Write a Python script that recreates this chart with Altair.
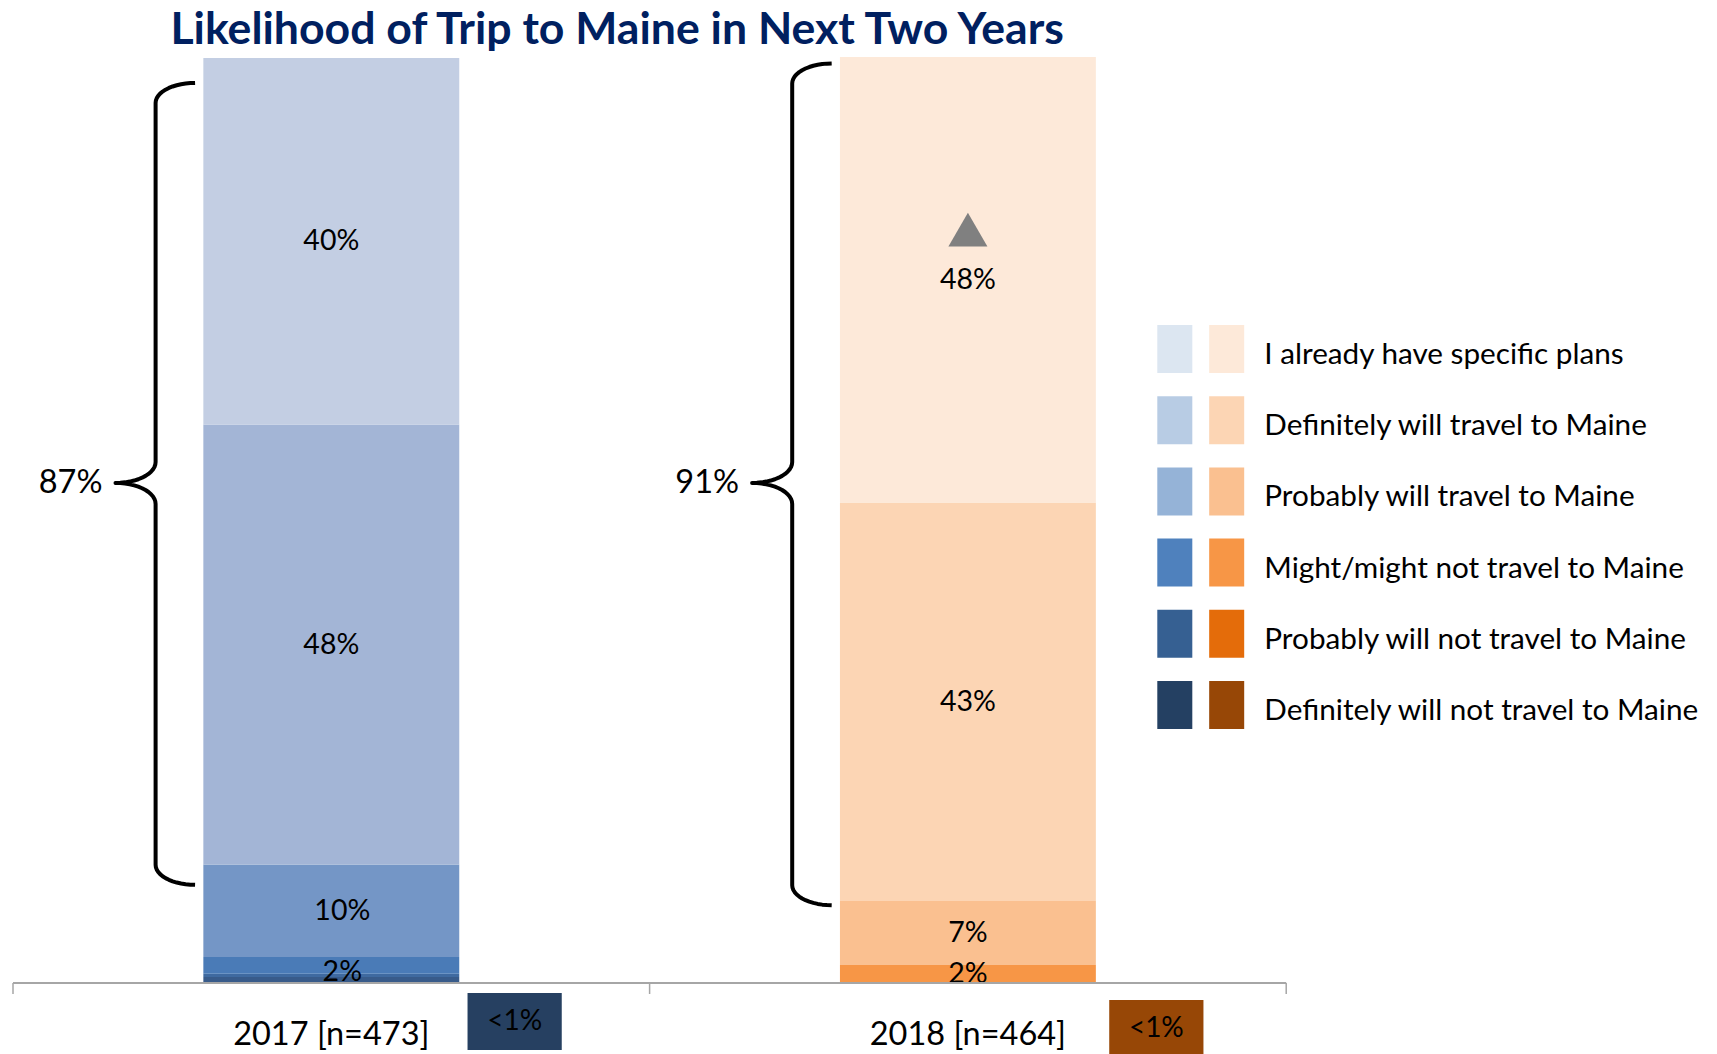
import altair as alt
import pandas as pd
import numpy as np

# ---------------- data ----------------
title_text = "Likelihood of Trip to Maine in Next Two Years"
years = ["2017 [n=473]", "2018 [n=464]"]
categories = [
    "I already have specific plans",
    "Definitely will travel to Maine",
    "Probably will travel to Maine",
    "Might/might not travel to Maine",
    "Probably will not travel to Maine",
    "Definitely will not travel to Maine",
]
values_2017 = [39.6, 47.5, 10.0, 1.8, 0.35, 0.65]
values_2018 = [48.1, 43.05, 6.9, 1.95, 0.0, 0.0]
bar_colors_2017 = ["#c3cee3", "#a3b5d6", "#7496c6", "#4a7bb7", "#3f6aa0", "#385b8a"]
bar_colors_2018 = ["#fde9d9", "#fcd5b4", "#fac090", "#f79646", "#e46c0a", "#974706"]
legend_blue = ["#dce6f1", "#b8cce4", "#95b3d7", "#4f81bd", "#366092", "#244062"]
legend_orange = ["#fde9d9", "#fcd5b4", "#fac090", "#f79646", "#e46c0a", "#974706"]
brace_labels = ["87%", "91%"]
brace_top = [97.2, 99.3]
brace_bottom = [10.6, 8.4]
brace_tip = [54.0, 54.0]
small_share_labels = ["<1%", "<1%"]
small_share_colors = ["#264061", "#974706"]
significant = [(1, 0)]  # (year index, category index) with up-triangle marker

# ---------------- layout constants ----------------
PLOT_W, PLOT_H = 1687, 926
X_DOMAIN = [-0.5, 2.15]
PX_X = (X_DOMAIN[1] - X_DOMAIN[0]) / PLOT_W   # units per px (x)
PX_Y = 100.0 / PLOT_H                          # percent per px (y)
BAR_HALF = 0.201
FONT = "Lato"

xs = alt.Scale(domain=X_DOMAIN, nice=False, zero=False)
ys = alt.Scale(domain=[0, 100], nice=False, zero=False)


def X(f):
    return alt.X(f, type="quantitative", scale=xs, axis=None)


def Y(f):
    return alt.Y(f, type="quantitative", scale=ys, axis=None)


# ---------------- bars ----------------
rows = []
label_rows = []
for yi, (vals, cols) in enumerate([(values_2017, bar_colors_2017), (values_2018, bar_colors_2018)]):
    base = 0.0
    for ci in reversed(range(len(categories))):
        v = vals[ci]
        y0, y1 = base, base + v
        base = y1
        if v <= 0:
            continue
        rows.append(dict(year=years[yi], cat=categories[ci], x0=yi - BAR_HALF, x1=yi + BAR_HALF,
                         y0=y0, y1=y1, color=cols[ci]))
        if v >= 1:
            shift = 11 * PX_X if (yi == 0 and v < 15) else 0.0
            yshift = -7 * PX_Y if (yi == 0 and v < 5) else 0.0
            label_rows.append(dict(x=yi + shift, y=(y0 + y1) / 2 + yshift, label=f"{round(v)}%",
                                   cat=categories[ci], yi=yi))
bars_df = pd.DataFrame(rows)
labels_df = pd.DataFrame(label_rows)

bars = alt.Chart(bars_df).mark_rect().encode(
    x=X("x0"), x2="x1", y=Y("y0"), y2="y1",
    color=alt.Color("color:N", scale=None),
)
bar_labels = alt.Chart(labels_df).mark_text(
    font=FONT, fontSize=28.5, color="#000000", baseline="middle", align="center"
).encode(x=X("x"), y=Y("y"), text="label:N")

# significance triangle
sig_rows = []
for yi, ci in significant:
    r = labels_df[(labels_df.yi == yi) & (labels_df.cat == categories[ci])].iloc[0]
    sig_rows.append(dict(x=r.x, y=r.y))
sig = alt.Chart(pd.DataFrame(sig_rows)).mark_point(
    shape="triangle-up", filled=True, size=1521, color="#808080", opacity=1, yOffset=-50
).encode(x=X("x"), y=Y("y"))

# ---------------- braces ----------------
XV, XE, XT = -0.276, -0.214, -0.339
RY_END, RY_MID = 20 * PX_Y, 21 * PX_Y
brace_pts = []
th = np.linspace(0, np.pi / 2, 14)
for yi in range(len(years)):
    xv, xe, xt = yi + XV, yi + XE, yi + XT
    top, bot, tip = brace_top[yi], brace_bottom[yi], brace_tip[yi]
    pts = []
    for t in th[::-1]:
        pts.append((xe - (xe - xv) * np.cos(t), top - RY_END + RY_END * np.sin(t)))
    for t in th:
        pts.append((xt + (xv - xt) * np.cos(t), tip + RY_MID - RY_MID * np.sin(t)))
    for t in th[::-1]:
        pts.append((xt + (xv - xt) * np.cos(t), tip - RY_MID + RY_MID * np.sin(t)))
    for t in th:
        pts.append((xe - (xe - xv) * np.cos(t), bot + RY_END - RY_END * np.sin(t)))
    for k, (px, py) in enumerate(pts):
        brace_pts.append(dict(b=yi, o=k, x=px, y=py))
braces = alt.Chart(pd.DataFrame(brace_pts)).mark_line(
    color="#000000", strokeWidth=4, strokeJoin="round", strokeCap="butt", interpolate="linear"
).encode(x=X("x"), y=Y("y"), detail="b:N", order="o:Q")

brace_text = alt.Chart(pd.DataFrame(dict(
    x=[i + XT for i in range(len(years))], y=brace_tip, label=brace_labels
))).mark_text(font=FONT, fontSize=32.5, align="right", baseline="middle", dx=-13, color="#000000").encode(
    x=X("x"), y=Y("y"), text="label:N")

# ---------------- category axis ----------------
axis_df = pd.DataFrame(dict(x=[X_DOMAIN[0]], x2=[len(years) - 0.5], y=[0.0]))
axis_line = alt.Chart(axis_df).mark_rule(color="#a6a6a6", strokeWidth=2).encode(
    x=X("x"), x2="x2", y=Y("y"))
tick_df = pd.DataFrame(dict(x=[i - 0.5 for i in range(len(years) + 1)], y=[0.0] * (len(years) + 1),
                            y2=[-11 * PX_Y] * (len(years) + 1)))
ticks = alt.Chart(tick_df).mark_rule(color="#a6a6a6", strokeWidth=1.5).encode(
    x=X("x"), y=Y("y"), y2="y2")
cat_labels = alt.Chart(pd.DataFrame(dict(x=list(range(len(years))), y=[-62 * PX_Y] * len(years), label=years))
                       ).mark_text(font=FONT, fontSize=32.5, align="center", baseline="alphabetic",
                                   color="#000000").encode(x=X("x"), y=Y("y"), text="label:N")

# ---------------- "<1%" callout boxes ----------------
box_df = pd.DataFrame(dict(
    x0=[0 + 0.214, 1 + 0.222], x1=[0 + 0.362, 1 + 0.370],
    y0=[-10 * PX_Y, -17 * PX_Y], y1=[-67 * PX_Y, -74 * PX_Y],
    color=small_share_colors, label=small_share_labels,
))
box_df["xm"] = (box_df.x0 + box_df.x1) / 2
box_df["ym"] = (box_df.y0 + box_df.y1) / 2
boxes = alt.Chart(box_df).mark_rect().encode(
    x=X("x0"), x2="x1", y=Y("y0"), y2="y1", color=alt.Color("color:N", scale=None))
box_text = alt.Chart(box_df).mark_text(font=FONT, fontSize=28, align="center", baseline="middle",
                                       color="#000000").encode(x=X("xm"), y=Y("ym"), text="label:N")

# ---------------- legend ----------------
LEG_TOP = (983 - 349) * PX_Y
LEG_STEP = 71.2 * PX_Y
LEG_HALF = 24 * PX_Y
leg_rows = []
for i, c in enumerate(categories):
    yc = LEG_TOP - i * LEG_STEP
    leg_rows.append(dict(cat=c, xb0=1.2975, xb1=1.3525, xo0=1.379, xo1=1.434, xt=1.4656,
                         y0=yc - LEG_HALF, y1=yc + LEG_HALF, yc=yc,
                         blue=legend_blue[i], orange=legend_orange[i]))
leg_df = pd.DataFrame(leg_rows)
leg_blue = alt.Chart(leg_df).mark_rect().encode(
    x=X("xb0"), x2="xb1", y=Y("y0"), y2="y1", color=alt.Color("blue:N", scale=None))
leg_orange = alt.Chart(leg_df).mark_rect().encode(
    x=X("xo0"), x2="xo1", y=Y("y0"), y2="y1", color=alt.Color("orange:N", scale=None))
leg_text = alt.Chart(leg_df).mark_text(font=FONT, fontSize=29.7, align="left", baseline="middle", dy=6,
                                       color="#000000").encode(x=X("xt"), y=Y("yc"), text="cat:N")

# ---------------- title ----------------
title = alt.Chart(pd.DataFrame(dict(x=[0.449], y=[(983 - 44) * PX_Y], t=[title_text]))).mark_text(
    font=FONT, fontSize=44.6, fontWeight="bold", color="#002060", align="center", baseline="alphabetic"
).encode(x=X("x"), y=Y("y"), text="t:N")

chart = alt.layer(
    bars, bar_labels, sig, braces, brace_text, axis_line, ticks, cat_labels,
    boxes, box_text, leg_blue, leg_orange, leg_text, title
).properties(
    width=PLOT_W, height=PLOT_H,
    autosize=alt.AutoSizeParams(type="none"),
    padding={"left": 5, "top": 49, "right": 4, "bottom": 71},
    background="#ffffff",
).configure_view(stroke=None)

chart.save("out.html", embed_options={"renderer": "svg", "actions": False})
